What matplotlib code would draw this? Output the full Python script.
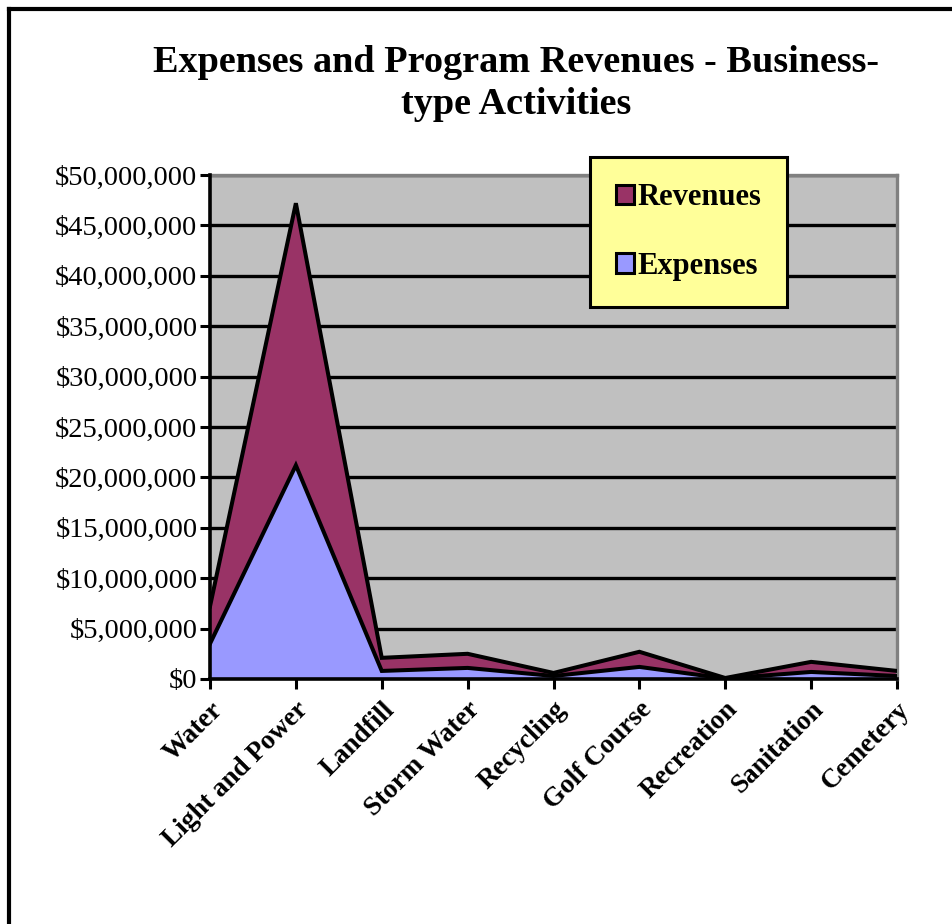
import matplotlib
matplotlib.use("Agg")
import matplotlib.pyplot as plt
import numpy as np
from matplotlib.patches import Rectangle
from matplotlib.ticker import FuncFormatter, MultipleLocator

categories = ["Water", "Light and Power", "Landfill", "Storm Water", "Recycling",
              "Golf Course", "Recreation", "Sanitation", "Cemetery"]
expenses = [3.5e6, 21.2e6, 0.8e6, 1.1e6, 0.3e6, 1.2e6, 0.05e6, 0.7e6, 0.3e6]
revenues = [3.7e6, 26.0e6, 1.3e6, 1.4e6, 0.3e6, 1.5e6, 0.05e6, 1.0e6, 0.5e6]

plt.rcParams['font.family'] = ['Liberation Serif', 'DejaVu Serif']

fig = plt.figure(figsize=(9.52, 9.24), dpi=100)
ax = fig.add_axes([210/952, 1-679/924, (897-210)/952, (679-175)/924])
ax.set_facecolor("#C0C0C0")

x = np.arange(len(categories))
exp = np.array(expenses)
tot = exp + np.array(revenues)

ax.fill_between(x, 0, exp, color="#9999FF", zorder=2, linewidth=0)
ax.fill_between(x, exp, tot, color="#993366", zorder=2, linewidth=0)
ax.plot(x, exp, color="black", lw=2.9, zorder=3, solid_joinstyle="miter")
ax.plot(x, tot, color="black", lw=2.9, zorder=3, solid_joinstyle="miter")

ax.set_xlim(0, len(categories)-1)
ax.set_ylim(0, 50e6)
ax.yaxis.set_major_locator(MultipleLocator(5e6))
ax.yaxis.set_major_formatter(FuncFormatter(lambda v, p: "${:,.0f}".format(v)))
ax.grid(axis="y", color="black", lw=2.4, zorder=1)
ax.set_axisbelow(True)

ax.set_xticks(x)
ax.set_xticklabels(categories, rotation=45, ha="right", rotation_mode="anchor",
                   fontsize=19.5, fontweight="bold")
for lbl in ax.get_yticklabels():
    lbl.set_fontsize(20.5)

ax.tick_params(axis="both", direction="out", length=7, width=2.2, color="black")
ax.tick_params(axis="y", pad=2)
ax.tick_params(axis="x", pad=6)

for s in ["left", "bottom"]:
    ax.spines[s].set_color("black")
    ax.spines[s].set_linewidth(2.6)
    ax.spines[s].set_zorder(4)
for s in ["top", "right"]:
    ax.spines[s].set_color("#808080")
    ax.spines[s].set_linewidth(2.4)

# Legend
handles = [Rectangle((0, 0), 1, 1, facecolor="#993366", edgecolor="black", lw=2.2),
           Rectangle((0, 0), 1, 1, facecolor="#9999FF", edgecolor="black", lw=2.2)]
leg = ax.legend(handles, ["Revenues", "Expenses"], loc="upper left",
                bbox_to_anchor=((590-210)/687, 1 + (175-157)/504),
                prop={"size": 22, "weight": "bold"}, frameon=True, fancybox=False,
                handlelength=0.6, handleheight=0.6, handletextpad=0.1,
                labelspacing=1.3, borderpad=0.85, borderaxespad=0)
leg.get_frame().set_facecolor("#FFFF99")
leg.get_frame().set_edgecolor("black")
leg.get_frame().set_linewidth(2.2)
leg.get_frame().set_alpha(1)
leg.set_zorder(10)

fig.text(516/952, 1-62/924, "Expenses and Program Revenues - Business-",
         ha="center", va="center", fontsize=27.5, fontweight="bold")
fig.text(516/952, 1-104/924, "type Activities",
         ha="center", va="center", fontsize=27.5, fontweight="bold")

# figure border (left and top visible)
fig.add_artist(plt.Line2D([8.5/952, 8.5/952], [0, 1-8.5/924], color="black", lw=3,
                          transform=fig.transFigure))
fig.add_artist(plt.Line2D([8.5/952, 1], [1-8.5/924, 1-8.5/924], color="black", lw=3,
                          transform=fig.transFigure))

fig.savefig("out.png", dpi=100)
